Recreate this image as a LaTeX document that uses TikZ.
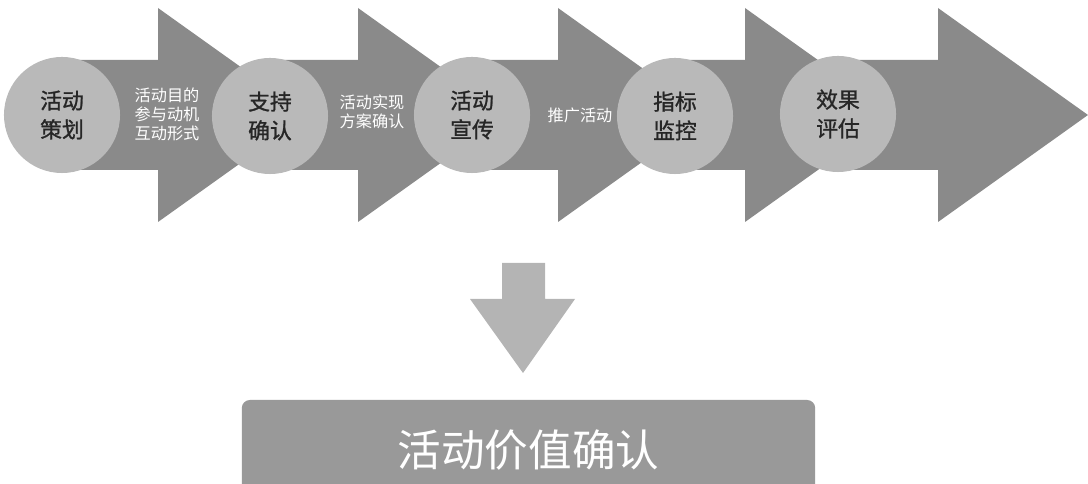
\documentclass[tikz,border=0pt]{standalone}
\usepackage{fontspec}
\newfontfamily\cjk{Noto Sans CJK SC}
\newfontfamily\cjkheavy{Noto Sans CJK SC}[FakeBold=1.2]
\usetikzlibrary{positioning,calc}

\definecolor{arrowgray}{HTML}{8A8A8A}
\definecolor{circlegray}{HTML}{B9B9B9}
\definecolor{downgray}{HTML}{B4B4B4}
\definecolor{boxgray}{HTML}{999999}

\begin{document}
\begin{tikzpicture}[x=0.025cm,y=-0.025cm,font=\cjk,
 stage/.style={circle,fill=circlegray,minimum size=2.9cm,inner sep=0pt,align=center,
   text=black!85,font=\cjkheavy\fontsize{15.5}{20.5}\selectfont},
 note/.style={text=white,align=center,font=\cjk\fontsize{11.5}{13.5}\selectfont},
 bigarrow/.style={fill=arrowgray},
 valbox/.style={fill=boxgray,rounded corners=0.2cm,minimum width=14.33cm,minimum height=2.5cm,
   text=white,font=\cjk\fontsize{31}{36}\selectfont}]
\path[use as bounding box] (0,0) rectangle (1088,484);
\clip (0,0) rectangle (1088,484);
% circle centres
\coordinate (p1) at (62,115);
\coordinate (p2) at (270,116);
\coordinate (p3) at (472,115);
\coordinate (p4) at (675,116);
\coordinate (p5) at (838,114);
% chevron arrows
\foreach \i/\b in {1/158,2/358,3/558,4/745,5/938}
  \fill[bigarrow] (p\i |- 0,60) -- (\b,60) -- (\b,8) -- (\b+150,115) -- (\b,222)
    -- (\b,170) -- (p\i |- 0,170) -- cycle;
% stages
\node[stage] (s1) at (p1) {活动\\策划};
\node[stage] (s2) at (p2) {支持\\确认};
\node[stage] (s3) at (p3) {活动\\宣传};
\node[stage] (s4) at (p4) {指标\\监控};
\node[stage] (s5) at (p5) {效果\\评估};
% notes
\node[note] (n1) at (167,114) {活动目的\\参与动机\\互动形式};
\node[note] (n2) at (372,112) {活动实现\\方案确认};
\node[note] (n3) at (580,115) {推广活动};
% result
\fill[downgray] (502,263) -- (545,263) -- (545,299) -- (575,299) -- (523,373)
  -- (470,299) -- (502,299) -- cycle;
\node[valbox] (val) at (528.5,450) {活动价值确认};
\end{tikzpicture}
\end{document}
